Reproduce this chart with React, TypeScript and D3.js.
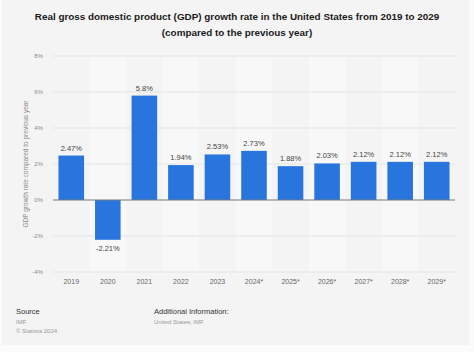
import { useEffect, useRef } from 'react';
import * as d3 from 'd3';

const years = ['2019', '2020', '2021', '2022', '2023', '2024*', '2025*', '2026*', '2027*', '2028*', '2029*'];
const growth = [2.47, -2.21, 5.8, 1.94, 2.53, 2.73, 1.88, 2.03, 2.12, 2.12, 2.12];
const valueLabels = ['2.47%', '-2.21%', '5.8%', '1.94%', '2.53%', '2.73%', '1.88%', '2.03%', '2.12%', '2.12%', '2.12%'];
const yTicks = [-4, -2, 0, 2, 4, 6, 8];

const W = 474;
const H = 352;
const FONT = '"Liberation Sans", Arial, Helvetica, sans-serif';

const App = () => {
  const svgRef = useRef<SVGSVGElement | null>(null);

  useEffect(() => {
    const svg = d3.select(svgRef.current);
    svg.selectAll('*').remove();

    // card background
    svg.append('rect').attr('width', W).attr('height', H).attr('fill', '#fbfbfb');
    svg.append('rect').attr('x', 2).attr('y', 0).attr('width', W - 7).attr('height', H - 7).attr('fill', '#f4f4f4');

    const margin = { top: 56, right: 19, bottom: 80, left: 53 };
    const innerW = W - margin.left - margin.right;

    const x = d3.scaleBand<string>()
      .domain(years)
      .range([margin.left, margin.left + innerW])
      .paddingInner(0.3)
      .paddingOuter(0.15);

    const y = d3.scaleLinear().domain([-4, 8]).range([272, 56]);

    // title
    const title = svg.append('text')
      .attr('text-anchor', 'middle')
      .style('font-family', FONT)
      .style('font-weight', 'bold')
      .style('font-size', '9.9px')
      .attr('fill', '#1a1a1a');
    title.append('tspan').attr('x', W / 2).attr('y', 20)
      .text('Real gross domestic product (GDP) growth rate in the United States from 2019 to 2029');
    title.append('tspan').attr('x', W / 2).attr('y', 36)
      .text('(compared to the previous year)');

    // alternating column bands
    const step = x.step();
    svg.append('g').selectAll('rect')
      .data(years.filter((_, i) => i % 2 === 1))
      .enter()
      .append('rect')
      .attr('x', d => (x(d) ?? 0) + x.bandwidth() / 2 - step / 2)
      .attr('y', y(8))
      .attr('width', step)
      .attr('height', y(-4) - y(8))
      .attr('fill', '#f8f8f8');

    // grid lines
    svg.append('g').selectAll('line')
      .data(yTicks.filter(t => t !== 0))
      .enter()
      .append('line')
      .attr('x1', margin.left)
      .attr('x2', margin.left + innerW)
      .attr('y1', d => y(d))
      .attr('y2', d => y(d))
      .attr('stroke', '#e4e4e4')
      .attr('stroke-width', 1);

    // y tick labels
    svg.append('g').selectAll('text')
      .data(yTicks)
      .enter()
      .append('text')
      .attr('x', 43)
      .attr('y', d => y(d) + 2)
      .attr('text-anchor', 'end')
      .style('font-family', FONT)
      .style('font-size', '6px')
      .attr('fill', '#8a8a8a')
      .text(d => `${d}%`);

    // y axis title
    svg.append('text')
      .attr('transform', `translate(28,${y(2)}) rotate(-90)`)
      .attr('text-anchor', 'middle')
      .style('font-family', FONT)
      .style('font-size', '6.5px')
      .attr('fill', '#8a8a8a')
      .text('GDP growth rate compared to previous year');

    // bars
    svg.append('g').selectAll('rect')
      .data(growth)
      .enter()
      .append('rect')
      .attr('x', (_, i) => x(years[i]) ?? 0)
      .attr('y', d => y(Math.max(0, d)))
      .attr('width', x.bandwidth())
      .attr('height', d => Math.abs(y(d) - y(0)))
      .attr('fill', '#2876dd');

    // zero line
    svg.append('line')
      .attr('x1', margin.left)
      .attr('x2', margin.left + innerW)
      .attr('y1', y(0))
      .attr('y2', y(0))
      .attr('stroke', '#777')
      .attr('stroke-width', 1.2);

    // value labels
    svg.append('g').selectAll('text')
      .data(growth)
      .enter()
      .append('text')
      .attr('x', (_, i) => (x(years[i]) ?? 0) + x.bandwidth() / 2)
      .attr('y', d => (d >= 0 ? y(d) - 5 : y(d) + 11))
      .attr('text-anchor', 'middle')
      .style('font-family', FONT)
      .style('font-size', '7.5px')
      .attr('fill', '#444')
      .text((_, i) => valueLabels[i]);

    // x labels
    svg.append('g').selectAll('text')
      .data(years)
      .enter()
      .append('text')
      .attr('x', d => (x(d) ?? 0) + x.bandwidth() / 2)
      .attr('y', 284)
      .attr('text-anchor', 'middle')
      .style('font-family', FONT)
      .style('font-size', '7px')
      .attr('fill', '#666')
      .text(d => d);

    // footer
    const foot = (tx: number, ty: number, s: string, size: number, color: string) =>
      svg.append('text')
        .attr('x', tx)
        .attr('y', ty)
        .style('font-family', FONT)
        .style('font-size', `${size}px`)
        .attr('fill', color)
        .text(s);
    foot(16, 314, 'Source', 7.5, '#333');
    foot(16, 324, 'IMF', 6, '#999');
    foot(16, 333, '© Statista 2024', 6, '#999');
    foot(154, 314, 'Additional Information:', 7.5, '#333');
    foot(154, 324, 'United States; IMF', 6, '#999');
  }, []);

  return (
    <svg
      ref={svgRef}
      width={W}
      height={H}
      style={{ position: 'absolute', left: 0, top: 0, display: 'block' }}
    />
  );
};

export default App;
